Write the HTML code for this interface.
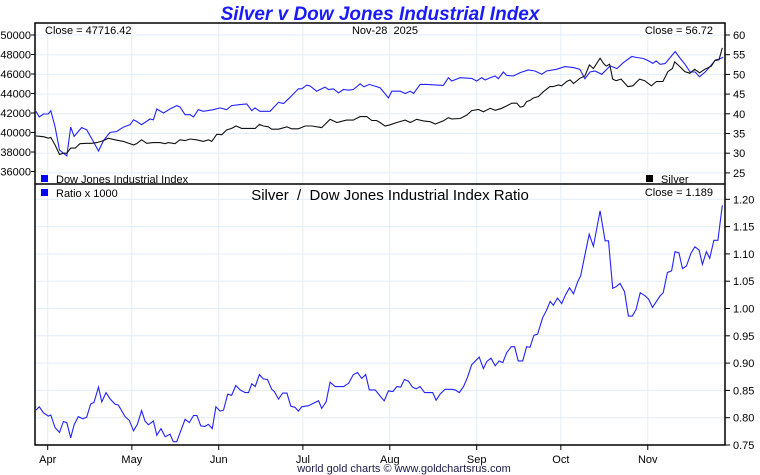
<!DOCTYPE html>
<html><head><meta charset="utf-8"><style>
html,body{margin:0;padding:0;background:#fff;}
svg{display:block;font-family:"Liberation Sans",Arial,sans-serif;}
svg text{white-space:pre;}
</style></head><body>
<svg id="chart" width="760" height="475" viewBox="0 0 760 475">
<text x="380" y="20" text-anchor="middle" font-size="19" font-weight="bold" font-style="italic" fill="#1a1aff">Silver v Dow Jones Industrial Index</text>
<g id="grid"></g>
<g id="series"></g>
<g id="axes"></g>
<rect x="35" y="23" width="690" height="422" fill="none" stroke="#000" stroke-width="1.5"/>
<line x1="35" y1="184" x2="725" y2="184" stroke="#000" stroke-width="1.5"/>
<text x="45" y="34" font-size="11">Close = 47716.42</text>
<text x="385" y="34" text-anchor="middle" font-size="11">Nov-28  2025</text>
<text x="713" y="34" text-anchor="end" font-size="11">Close = 56.72</text>
<rect x="41" y="175" width="7" height="7" fill="#0000ff"/>
<text x="56" y="183" font-size="11">Dow Jones Industrial Index</text>
<rect x="646" y="175" width="7" height="7" fill="#000"/>
<text x="661" y="183" font-size="11">Silver</text>
<rect x="41" y="189" width="7" height="7" fill="#0000ff"/>
<text x="56" y="197" font-size="11">Ratio x 1000</text>
<text x="390" y="200" text-anchor="middle" font-size="15">Silver  /  Dow Jones Industrial Index Ratio</text>
<text x="713" y="196" text-anchor="end" font-size="11">Close = 1.189</text>
<text x="404" y="472" text-anchor="middle" font-size="11" fill="#1a1a4a">world gold charts © www.goldchartsrus.com</text>
</svg>
<script>
const monthLabels=["Apr","May","Jun","Jul","Aug","Sep","Oct","Nov"];
const monthDays=[0,30,61,91,122,153,183,214];
const dowTicks=[36000,38000,40000,42000,44000,46000,48000,50000];
const silverTicks=[25,30,35,40,45,50,55,60];
const ratioTicks=[0.75,0.80,0.85,0.90,0.95,1.00,1.05,1.10,1.15,1.20];
const dowDays=[-4.2,-3.0,-1.5,0.2,1.1,2.6,4.2,6.8,8.2,9.4,12.1,13.9,16.3,18.1,19.9,22.2,24.6,27.0,29.4,30.6,31.7,33.5,36.5,37.7,38.9,41.3,43.6,46.0,47.2,49.0,50.8,52.0,53.7,55.5,59.1,61.5,63.8,65.6,68.6,71.0,72.8,73.9,75.7,79.3,82.3,84.1,86.5,89.4,90.6,92.4,93.6,95.9,98.9,100.1,101.9,103.7,105.5,107.3,109.0,111.4,112.8,114.7,116.7,
118.5,121.5,122.7,125.7,127.5,129.3,130.5,132.8,135.2,141.1,142.9,144.1,147.1,151.2,153.0,154.8,156.0,157.8,159.6,160.7,162.5,163.7,166.1,168.5,171.4,173.8,176.2,177.9,181.5,184.5,187.5,189.8,191.6,193.4,195.2,197.6,200.6,203.0,205.3,208.3,210.1,212.5,214.3,215.8,217.0,218.4,220.2,222.0,223.8,225.6,227.3,229.1,230.9,232.5,234.5,236.4,238.2,239.4,240.9];
const dowValues=[42170,41590,41900,41900,42240,40620,38200,37600,40550,39600,40500,40280,39070,38100,39170,40000,40100,40550,40800,41300,41140,40800,41380,41300,42410,42000,42410,42760,42620,41830,41830,41590,42340,42170,42340,42520,42340,42760,42860,42930,42240,42520,42170,42170,43100,42970,43620,44480,44480,44860,44760,44240,44660,44410,44480,44070,44410,44340,44410,45000,44690,44930,44760,
44590,43550,44240,44240,44000,44240,44000,44930,44930,44830,45620,45280,45620,45550,45280,45620,45380,45620,45790,45520,46210,45860,45790,46140,46410,46310,45970,46310,46480,46760,46660,46480,45520,46210,46310,45970,46830,46550,47170,47790,47690,47590,47340,47100,47340,47000,47070,47690,48310,47590,47000,46210,46210,45720,46210,46830,47450,47520,47716];
const silverDays=[-4.2,-1.5,0.2,1.1,2.6,4.2,5.6,6.8,8.2,9.8,11.5,13.9,15.7,17.5,19.9,21.6,24.0,27.0,30.6,31.7,33.5,35.3,37.7,40.1,41.8,43.0,45.4,47.2,49.0,50.8,53.1,55.5,57.3,58.5,60.3,62.1,63.8,65.6,67.2,69.2,71.6,74.0,75.5,76.9,78.7,79.9,82.3,85.3,87.0,89.4,91.8,94.2,97.7,100.7,103.1,106.6,109.0,111.4,113.8,115.6,117.3,
118.5,120.3,122.1,124.5,127.5,129.3,131.6,134.0,136.4,138.2,141.1,142.9,144.1,147.1,149.5,151.2,153.6,155.4,157.8,159.6,161.9,163.7,165.5,167.3,168.5,169.7,170.8,172.0,173.2,175.0,176.8,179.1,180.3,182.1,183.3,185.1,186.3,187.5,189.8,191.6,193.2,194.6,197.0,198.2,199.2,200.4,201.5,202.7,204.5,206.9,208.7,211.1,212.9,215.3,217.1,219.4,221.2,222.8,223.6,225.4,227.2,229.0,230.7,232.5,234.3,236.7,237.9,239.4,240.6];
const silverValues=[34.4,34.2,33.8,34.0,32.1,29.7,30.0,30.0,31.3,31.3,32.4,32.5,32.5,32.7,33.2,33.8,33.4,33.0,32.1,32.4,33.4,32.5,32.7,32.7,32.4,32.7,32.4,33.4,33.2,33.6,33.4,33.0,33.4,33.0,34.8,34.7,35.9,36.3,36.9,36.3,36.3,36.3,37.3,36.9,36.7,36.1,36.1,36.7,36.2,36.2,36.9,36.9,36.5,38.6,37.8,38.4,38.4,39.3,39.3,38.3,38.3,
37.8,36.9,37.2,37.8,38.4,37.8,38.6,38.2,38.0,37.4,38.2,39.0,38.7,38.8,39.7,40.8,41.1,40.5,41.4,40.9,41.4,42.0,42.7,42.7,41.7,41.9,43.1,43.4,44.0,44.4,45.6,46.9,46.9,47.3,47.1,48.2,48.6,47.7,49.0,49.6,52.4,51.5,54.1,52.8,52.1,52.6,48.8,48.4,48.8,46.9,47.1,48.8,48.4,47.1,48.2,48.2,50.7,51.5,53.2,52.0,50.7,50.3,51.3,50.4,51.3,52.1,53.5,53.7,56.72];
const ratioDays=[-4.2,-3.0,-1.5,0.2,1.1,2.6,4.2,5.6,6.8,8.2,9.4,10.9,12.5,13.9,15.3,16.5,18.1,19.3,20.8,22.2,24.0,25.2,27.6,29.1,30.6,32.0,33.5,34.7,35.9,37.7,38.9,40.4,41.9,43.6,44.8,46.0,49.0,50.5,52.0,53.2,54.6,56.1,57.3,58.7,60.0,61.5,62.7,64.2,65.6,67.1,68.6,70.4,71.6,72.8,74.0,75.5,76.9,78.4,79.9,80.8,82.3,83.8,85.3,86.7,88.2,89.4,90.6,93.0,95.4,96.6,97.7,99.3,100.7,102.5,105.5,107.3,109.0,110.5,112.0,113.4,114.7,116.8,
118.5,120.0,121.5,123.1,124.5,125.9,127.2,128.6,130.1,131.4,132.8,134.4,136.4,137.3,138.5,139.9,141.7,144.1,145.3,146.8,148.3,149.7,151.2,153.9,155.4,156.6,158.1,159.6,161.0,162.3,163.7,165.3,166.5,167.8,169.4,170.8,172.0,173.4,174.7,176.5,177.8,179.2,180.3,181.8,183.3,184.5,186.1,187.5,189.0,190.1,191.6,193.1,194.6,197.0,198.8,200.0,201.5,202.7,204.1,205.7,207.1,208.5,209.8,211.3,213.1,214.3,215.7,217.1,218.4,219.5,221.0,222.5,223.7,225.1,226.4,227.8,229.4,230.8,232.3,233.5,234.9,236.1,237.6,239.0,240.6];
const ratioValues=[0.814,0.820,0.809,0.803,0.805,0.782,0.773,0.793,0.791,0.763,0.787,0.802,0.798,0.801,0.825,0.828,0.856,0.829,0.846,0.835,0.825,0.823,0.802,0.795,0.776,0.788,0.813,0.794,0.787,0.794,0.768,0.780,0.765,0.770,0.756,0.756,0.797,0.791,0.804,0.804,0.785,0.784,0.788,0.780,0.820,0.812,0.814,0.843,0.841,0.859,0.851,0.846,0.846,0.862,0.857,0.879,0.871,0.870,0.852,0.848,0.834,0.845,0.845,0.821,0.819,0.812,0.820,0.822,0.828,0.831,0.817,0.829,0.865,0.857,0.857,0.863,0.879,0.883,0.872,0.879,0.851,0.851,
0.840,0.831,0.849,0.848,0.857,0.856,0.870,0.867,0.856,0.853,0.857,0.846,0.846,0.846,0.832,0.843,0.852,0.852,0.851,0.846,0.857,0.874,0.897,0.911,0.890,0.903,0.909,0.895,0.904,0.901,0.919,0.930,0.930,0.904,0.904,0.930,0.929,0.951,0.953,0.983,0.996,1.013,1.006,1.019,1.009,1.023,1.038,1.027,1.049,1.060,1.098,1.136,1.114,1.179,1.124,1.124,1.037,1.040,1.046,1.031,0.986,0.986,0.998,1.029,1.023,1.017,1.002,1.013,1.023,1.029,1.066,1.069,1.104,1.102,1.073,1.078,1.101,1.113,1.107,1.081,1.104,1.092,1.125,1.125,1.189];

const NS="http://www.w3.org/2000/svg";
const L=35,R=725,T1=23,B1=184,T2=184,B2=445;
const xS=d=>47.7+d*2.804;
const yDow=v=>35+(50000-v)/2000*19.5;
const ySil=v=>35+(60-v)/5*19.7;
const yRat=v=>445-(v-0.75)/0.05*27.3;
function el(tag,attrs,parent,txt){const e=document.createElementNS(NS,tag);for(const k in attrs)e.setAttribute(k,attrs[k]);if(txt!==undefined)e.textContent=txt;parent.appendChild(e);return e;}
const grid=document.getElementById('grid'),axes=document.getElementById('axes'),series=document.getElementById('series');
const gc="#e2eef9";
monthDays.forEach((d,i)=>{
  const x=xS(d);
  const g=el('line',{x1:x,x2:x,y1:T1,y2:B2,stroke:gc,'stroke-width':1},grid);
  
  
  const t=el('line',{x1:x,x2:x,y1:B2,y2:B2+5,stroke:'#000'},axes);
  
  
  const lb=el('text',{x:x,y:463,'text-anchor':'middle','font-size':11},axes,monthLabels[i]);
  
  
});
silverTicks.forEach(v=>{
  const y=ySil(v);
  const g=el('line',{x1:L,x2:R,y1:y,y2:y,stroke:gc},grid);
  
  
  const t=el('line',{x1:R,x2:R+5,y1:y,y2:y,stroke:'#000'},axes);
  
  
  const lb=el('text',{x:733,y:y+4,'font-size':11},axes,String(v));
  
  
});
dowTicks.forEach(v=>{
  const y=yDow(v);
  const t=el('line',{x1:L-4,x2:L,y1:y,y2:y,stroke:'#000'},axes);
  
  
  const lb=el('text',{x:31,y:y+4,'text-anchor':'end','font-size':11},axes,String(v));
  
  
});
ratioTicks.forEach(v=>{
  const y=yRat(v);
  const g=el('line',{x1:L,x2:R,y1:y,y2:y,stroke:gc},grid);
  
  
  const t=el('line',{x1:R,x2:R+5,y1:y,y2:y,stroke:'#000'},axes);
  
  
  const lb=el('text',{x:733,y:y+4,'font-size':11},axes,v.toFixed(2));
  
  
});
function line(days,vals,yf){
  return days.map((d,i)=>(i?'L':'M')+xS(d).toFixed(1)+','+yf(vals[i]).toFixed(1)).join(' ');
}
const p1=el('path',{d:line(dowDays,dowValues,yDow),fill:'none',stroke:'#2222ff','stroke-width':1.1},series);


const p2=el('path',{d:line(silverDays,silverValues,ySil),fill:'none',stroke:'#111','stroke-width':1.1},series);


const p3=el('path',{d:line(ratioDays,ratioValues,yRat),fill:'none',stroke:'#2222ff','stroke-width':1.1},series);


</script>
</body></html>
